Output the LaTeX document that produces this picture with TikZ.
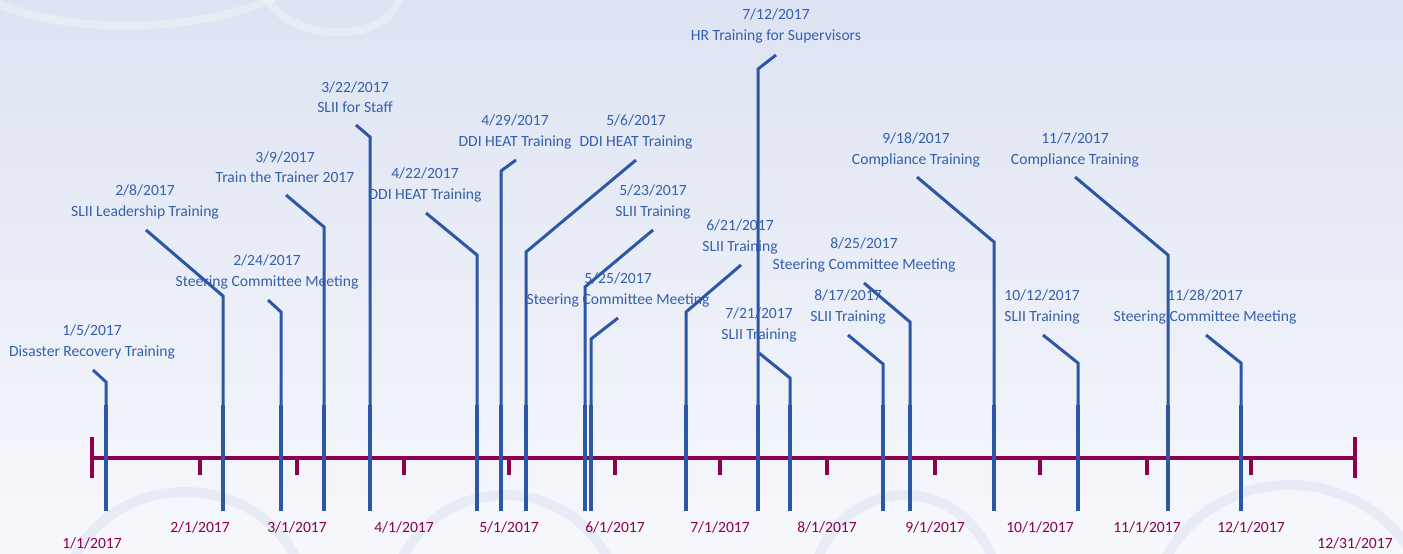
\documentclass[tikz,border=0pt]{standalone}
\usepackage{fontspec}
\setmainfont{Carlito}
\definecolor{evblue}{RGB}{44,86,166}
\definecolor{evtext}{RGB}{52,96,172}
\definecolor{axmag}{RGB}{140,0,80}
\definecolor{bgtop}{RGB}{221,227,242}
\definecolor{bgbot}{RGB}{247,248,252}
\definecolor{swirlc}{RGB}{222,228,242}
\newcommand{\mkleader}[5]{%
  \coordinate (f#1) at (#2,511);
  \coordinate (m#1) at (#2,405);
  \coordinate (k#1) at (#2,#3);
  \coordinate (t#1) at (#4,#5);
  \draw[leader] (m#1) -- (k#1) -- (t#1);
  \draw[leaderfoot] (f#1) -- (m#1);
}
\begin{document}
\begin{tikzpicture}[x=1pt,y=-1pt,
  evlabel/.style={text=evtext, font=\fontsize{15.6}{20.5}\selectfont, align=center, inner sep=0pt},
  monthlabel/.style={text=axmag, font=\fontsize{15.6}{18}\selectfont, inner sep=0pt},
  leader/.style={draw=evblue, line width=3pt, line join=miter},
  leaderfoot/.style={draw=evblue, line width=4pt},
  axisline/.style={draw=axmag, line width=4pt},
  tickmark/.style={draw=axmag, line width=4pt},
  swirltop/.style={draw=white, opacity=0.3, line width=8pt},
  swirlbot/.style={draw=swirlc, opacity=0.6, line width=10pt},
  ]
\useasboundingbox (0,0) rectangle (1403,554);
% background
\shade[top color=bgtop, bottom color=bgbot] (0,0) rectangle (1403,554);
\begin{scope}
  \clip (0,0) rectangle (1403,554);
  \draw[swirltop] (-10,0) .. controls (60,35) and (200,35) .. (280,-5);
  \draw[swirltop] (265,-5) .. controls (290,45) and (390,45) .. (400,-5);
  \draw[swirlbot] (185,600) ellipse [x radius=120, y radius=108];
  \draw[swirlbot] (505,610) ellipse [x radius=115, y radius=115];
  \draw[swirlbot] (905,600) ellipse [x radius=95, y radius=105];
  \draw[swirlbot] (1290,620) ellipse [x radius=140, y radius=135];
\end{scope}
% axis
\coordinate (ax0) at (92,458);
\coordinate (ax1) at (1355,458);
\coordinate (cap0t) at (92,437);
\coordinate (cap0b) at (92,478);
\coordinate (cap1t) at (1355,437);
\coordinate (cap1b) at (1355,478);
\draw[axisline] (ax0) -- (ax1);
\draw[axisline] (cap0t) -- (cap0b);
\draw[axisline] (cap1t) -- (cap1b);
\foreach \x/\m in {200/2,297/3,404/4,509/5,615/6,720/7,827/8,935/9,1040/10,1147/11,1251/12}{
  \coordinate (tk\m) at (\x,456);
  \coordinate (tb\m) at (\x,475);
  \draw[tickmark] (tk\m) -- (tb\m);
  \node[monthlabel] (ml\m) at (\x,527) {\m/1/2017};
}
\node[monthlabel] (mstart) at (92,543) {1/1/2017};
\node[monthlabel] (mend) at (1355,543) {12/31/2017};
% event labels
\node[evlabel] (l1) at (92,342) {1/5/2017\\Disaster Recovery Training};
\node[evlabel] (l2) at (145,202) {2/8/2017\\SLII Leadership Training};
\node[evlabel] (l3) at (267,272) {2/24/2017\\Steering Committee Meeting};
\node[evlabel] (l4) at (285,167) {3/9/2017\\Train the Trainer 2017};
\node[evlabel] (l5) at (355,97) {3/22/2017\\SLII for Staff};
\node[evlabel] (l6) at (425,185) {4/22/2017\\DDI HEAT Training};
\node[evlabel] (l7) at (515,132) {4/29/2017\\DDI HEAT Training};
\node[evlabel] (l8) at (636,132) {5/6/2017\\DDI HEAT Training};
\node[evlabel] (l9) at (653,202) {5/23/2017\\SLII Training};
\node[evlabel] (l10) at (618,290) {5/25/2017\\Steering Committee Meeting};
\node[evlabel] (l11) at (740,237) {6/21/2017\\SLII Training};
\node[evlabel] (l12) at (776,26) {7/12/2017\\HR Training for Supervisors};
\node[evlabel] (l13) at (759,325) {7/21/2017\\SLII Training};
\node[evlabel] (l14) at (848,307) {8/17/2017\\SLII Training};
\node[evlabel] (l15) at (864,255) {8/25/2017\\Steering Committee Meeting};
\node[evlabel] (l16) at (916,150) {9/18/2017\\Compliance Training};
\node[evlabel] (l17) at (1042,307) {10/12/2017\\SLII Training};
\node[evlabel] (l18) at (1075,150) {11/7/2017\\Compliance Training};
\node[evlabel] (l19) at (1205,307) {11/28/2017\\Steering Committee Meeting};
% event leaders
\mkleader{1}{106}{382}{93}{370}
\mkleader{2}{223}{296}{146}{230}
\mkleader{3}{281}{312}{268}{300}
\mkleader{4}{324}{227}{286}{195}
\mkleader{5}{370}{137}{356}{125}
\mkleader{6}{477}{255}{426}{213}
\mkleader{7}{501}{171}{516}{160}
\mkleader{8}{526}{252}{636}{160}
\mkleader{9}{585}{287}{653}{230}
\mkleader{10}{591}{339}{618}{318}
\mkleader{11}{686}{312}{741}{265}
\mkleader{12}{758}{69}{776}{55}
\mkleader{13}{790}{378}{759}{353}
\mkleader{14}{883}{364}{848}{335}
\mkleader{15}{910}{322}{864}{283}
\mkleader{16}{994}{242}{917}{177}
\mkleader{17}{1078}{363}{1043}{335}
\mkleader{18}{1168}{255}{1075}{177}
\mkleader{19}{1241}{363}{1206}{335}
\end{tikzpicture}
\end{document}
